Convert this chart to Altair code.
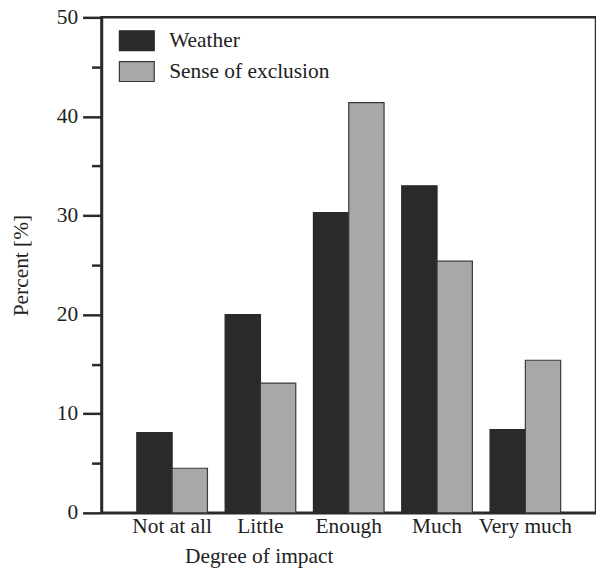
import altair as alt
import pandas as pd

# Survey answers: share of respondents per degree of impact
categories = ["Not at all", "Little", "Enough", "Much", "Very much"]
series = ["Weather", "Sense of exclusion"]
weather = [8.1, 20.0, 30.3, 33.0, 8.4]
exclusion = [4.5, 13.1, 41.4, 25.4, 15.4]

rows = []
for cat, w, e in zip(categories, weather, exclusion):
    rows.append({"impact": cat, "factor": series[0], "percent": w})
    rows.append({"impact": cat, "factor": series[1], "percent": e})
df = pd.DataFrame(rows)

FONT = "Liberation Serif"
FS = 21.5
INK = "#2b2a2b"

fill_scale = alt.Scale(domain=series, range=[INK, "#a8a8a8"])
stroke_scale = alt.Scale(domain=series, range=[INK, "#3a3a3a"])

# rectangular legend swatch, 35 x 20 px at size 1225
swatch = "M-1,-0.571L1,-0.571L1,0.571L-1,0.571Z"

chart = (
    alt.Chart(df)
    .mark_bar(strokeWidth=1.2)
    .encode(
        x=alt.X(
            "impact:N",
            sort=categories,
            scale=alt.Scale(paddingInner=0.2, paddingOuter=0.4),
            axis=alt.Axis(
                title="Degree of impact",
                labelAngle=0,
                ticks=False,
                tickSize=0,
                labelPadding=3,
                labelFontSize=FS,
                labelBaseline="top",
                titleFontSize=FS,
                titleFontWeight="normal",
                titleX=158,
                titleY=50,
                titleBaseline="alphabetic",
                titleAlign="center",
            ),
        ),
        xOffset=alt.XOffset("factor:N", sort=series, scale=alt.Scale(paddingInner=0, paddingOuter=0)),
        y=alt.Y(
            "percent:Q",
            scale=alt.Scale(domain=[0, 50], nice=False),
            axis=alt.Axis(
                title="Percent [%]",
                values=[0, 5, 10, 15, 20, 25, 30, 35, 40, 45, 50],
                labelExpr="datum.value % 10 === 0 ? datum.label : ''",
                tickSize={"condition": {"test": "datum.value % 10 === 0", "value": 19}, "value": 10},
                labelPadding=5,
                labelFontSize=FS,
                titleFontSize=FS,
                titleFontWeight="normal",
                titleX=-80,
                titleY=249,
                titleAngle=-90,
                titleAlign="center",
                titleBaseline="middle",
                grid=False,
            ),
        ),
        fill=alt.Fill(
            "factor:N",
            sort=series,
            scale=fill_scale,
            legend=alt.Legend(
                title=None,
                orient="none",
                legendX=17,
                legendY=5,
                symbolType=swatch,
                symbolSize=1225,
                symbolStrokeWidth=1.2,
                labelFontSize=FS,
                labelFont=FONT,
                labelColor="#222222",
                labelOffset=14,
                labelLimit=400,
                rowPadding=-3,
                padding=0,
            ),
        ),
        stroke=alt.Stroke("factor:N", sort=series, scale=stroke_scale, legend=None),
    )
    .properties(
        width=497,
        height=498,
        background="white",
        autosize=alt.AutoSizeParams(type="none"),
        padding={"left": 102, "top": 16, "right": 0, "bottom": 56},
    )
    .configure_view(stroke=INK, strokeWidth=2.5)
    .configure_axis(
        labelFont=FONT,
        titleFont=FONT,
        labelColor="#222222",
        titleColor="#222222",
        domainColor=INK,
        domainWidth=2.5,
        tickColor=INK,
        tickWidth=2.5,
    )
)

chart.save("out.html", embed_options={"renderer": "svg", "actions": False})
